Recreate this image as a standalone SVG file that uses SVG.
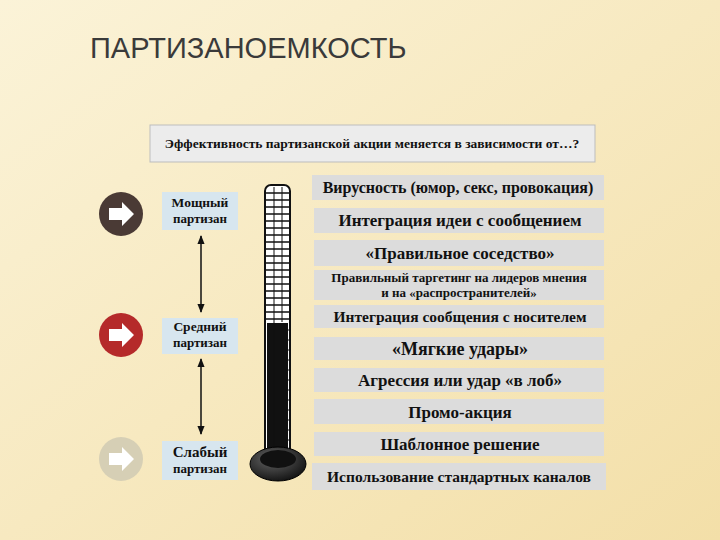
<svg xmlns="http://www.w3.org/2000/svg" width="720" height="540" viewBox="0 0 720 540">
<defs>
<linearGradient id="bg" x1="0" y1="0" x2="1" y2="1"><stop offset="0" stop-color="#fbf3d8"/><stop offset="1" stop-color="#f3dfa8"/></linearGradient>
<marker id="ah" viewBox="0 0 10 10" refX="9" refY="5" markerWidth="6" markerHeight="6" orient="auto-start-reverse"><path d="M0,1 L10,5 L0,9 z" fill="#111"/></marker>
<radialGradient id="bulb" cx="0.4" cy="0.35" r="0.7"><stop offset="0" stop-color="#666"/><stop offset="1" stop-color="#111"/></radialGradient>
</defs>
<style>
.box{fill:#dcdcdc}
.lbl{fill:#d7e6ef}
.t{font-family:"Liberation Serif",serif;font-weight:bold;fill:#111;text-anchor:middle}
.arr{fill:#fff}
</style>
<rect width="720" height="540" fill="url(#bg)"/>
<text x="90" y="58" font-family="Liberation Sans,sans-serif" font-size="29" fill="#3a3a3a">ПАРТИЗАНОЕМКОСТЬ</text>
<g id="question"><rect x="150" y="125" width="445" height="37" fill="#ececec" stroke="#bdbdbd"/><text x="372" y="148" class="t" font-size="13.5">Эффективность партизанской акции меняется в зависимости от…?</text></g>
<g id="thermo">
<rect x="265" y="185" width="25" height="275" rx="6" fill="#fff" stroke="#111" stroke-width="2"/>
<rect x="267" y="323" width="21" height="137" fill="#111"/>
<path d="M274,187 V460 M282,187 V322" stroke="#111" stroke-width="1"/>
<path d="M266,193H289M266,200H289M266,207H289M266,214H289M266,221H289M266,228H289M266,235H289M266,242H289M266,249H289M266,256H289M266,263H289M266,270H289M266,277H289M266,284H289M266,291H289M266,298H289M266,305H289M266,312H289M266,319H289" stroke="#111" stroke-width="1.5"/>
<path d="M288,330H291M288,340H291M288,350H291M288,360H291M288,370H291M288,380H291M288,390H291M288,400H291M288,410H291M288,420H291M288,430H291M288,440H291" stroke="#111"/>
<ellipse cx="278" cy="464" rx="28" ry="17" fill="url(#bulb)" stroke="#000"/>
<ellipse cx="278" cy="459" rx="18" ry="9" fill="#111"/>
</g>
<g id="b1"><circle cx="121" cy="214" r="22" fill="#4a3a35"/><path class="arr" d="M109,208H122V202L134,214L122,226V220H109z"/></g>
<g id="b2"><circle cx="121" cy="335" r="22" fill="#b52a2a"/><path class="arr" d="M109,329H122V323L134,335L122,347V341H109z"/></g>
<g id="b3"><circle cx="121" cy="459" r="22" fill="#d6cfb5"/><path class="arr" d="M109,453H122V447L134,459L122,471V465H109z"/></g>
<g id="l1"><rect class="lbl" x="162" y="192" width="76" height="38"/><text class="t" x="200" y="207" font-size="13.5">Мощный</text><text class="t" x="200" y="223" font-size="13">партизан</text></g>
<g id="l2"><rect class="lbl" x="162" y="318" width="76" height="36"/><text class="t" x="200" y="331" font-size="13.5">Средний</text><text class="t" x="200" y="347" font-size="13">партизан</text></g>
<g id="l3"><rect class="lbl" x="162" y="441" width="76" height="39"/><text class="t" x="200" y="457" font-size="15">Слабый</text><text class="t" x="200" y="473" font-size="13">партизан</text></g>
<g id="connectors" stroke="#111" stroke-width="1.5" marker-start="url(#ah)" marker-end="url(#ah)">
<line x1="201" y1="236" x2="201" y2="312"/><line x1="201" y1="359" x2="201" y2="434"/>
</g>
<g id="i1"><rect class="box" x="312" y="175" width="292" height="25"/><text class="t" x="458" y="193" font-size="16">Вирусность (юмор, секс, провокация)</text></g>
<g id="i2"><rect class="box" x="314" y="208" width="290" height="25"/><text class="t" x="460" y="226" font-size="17">Интеграция идеи с сообщением</text></g>
<g id="i3"><rect class="box" x="314" y="240" width="290" height="26"/><text class="t" x="460" y="259" font-size="17">«Правильное соседство»</text></g>
<g id="i4"><rect class="box" x="314" y="270" width="290" height="30"/><text class="t" x="459" y="282" font-size="13">Правильный таргетинг на лидеров мнения</text><text class="t" x="459" y="297" font-size="13">и на «распространителей»</text></g>
<g id="i5"><rect class="box" x="314" y="305" width="290" height="23"/><text class="t" x="460" y="322" font-size="15.5">Интеграция сообщения с носителем</text></g>
<g id="i6"><rect class="box" x="314" y="337" width="290" height="23"/><text class="t" x="460" y="355" font-size="18">«Мягкие удары»</text></g>
<g id="i7"><rect class="box" x="314" y="368" width="290" height="24"/><text class="t" x="460" y="386" font-size="17">Агрессия или удар «в лоб»</text></g>
<g id="i8"><rect class="box" x="314" y="399" width="290" height="25"/><text class="t" x="460" y="418" font-size="17">Промо-акция</text></g>
<g id="i9"><rect class="box" x="314" y="432" width="290" height="24"/><text class="t" x="460" y="450" font-size="17">Шаблонное решение</text></g>
<g id="i10"><rect class="box" x="312" y="463" width="294" height="27"/><text class="t" x="459" y="482" font-size="15.5">Использование стандартных каналов</text></g>
</svg>
